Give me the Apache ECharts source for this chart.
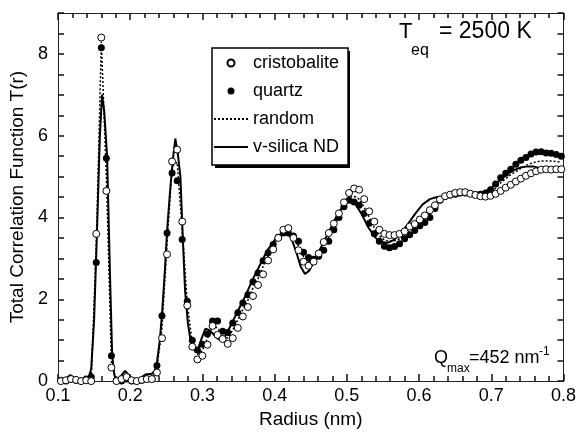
<!DOCTYPE html>
<html>
<head>
<meta charset="utf-8">
<script src="https://cdn.jsdelivr.net/npm/echarts@6/dist/echarts.min.js"></script>
<style>html,body{margin:0;padding:0;background:#fff;}#c{width:579px;height:434px;}</style>
</head>
<body>
<div id="c"></div>
<script>
// common radius grid for the simulated point series (nm)
var R = [
 0.104,0.111,0.118,0.125,0.132,0.139,0.146,0.153,0.160,0.167,
 0.174,0.181,0.188,0.195,0.202,0.209,0.216,0.223,0.230,0.237,
 0.244,0.251,0.258,0.265,0.272,0.279,0.286,0.293,0.300,0.307,
 0.314,0.321,0.328,0.335,0.342,0.349,0.356,0.363,0.370,0.377,
 0.384,0.391,0.398,0.405,0.412,0.419,0.426,0.433,0.440,0.447,
 0.454,0.461,0.468,0.475,0.482,0.489,0.496,0.503,0.510,0.517,
 0.524,0.531,0.538,0.545,0.552,0.559,0.566,0.573,0.580,0.587,
 0.594,0.601,0.608,0.615,0.622,0.629,0.636,0.643,0.650,0.657,
 0.664,0.671,0.678,0.685,0.692,0.699,0.706,0.713,0.720,0.727,
 0.734,0.741,0.748,0.755,0.762,0.769,0.776,0.783,0.790,0.797
];
var quartz = [
 0.02,0.0,0.05,0.02,0.0,0.05,0.1,2.9,8.15,5.45,
 0.62,0.02,0.0,0.05,0.0,0.0,0.02,0.05,0.05,0.38,
 1.6,3.62,5.09,4.9,3.46,1.95,1.0,0.76,0.9,1.15,
 1.47,1.47,1.22,1.19,1.42,1.67,1.91,2.11,2.43,2.64,
 2.94,3.14,3.34,3.52,3.62,3.62,3.55,3.42,3.15,3.02,
 2.98,3.05,3.2,3.42,3.7,4.0,4.26,4.42,4.38,4.3,
 4.1,3.86,3.6,3.42,3.3,3.26,3.29,3.36,3.48,3.58,
 3.68,3.8,3.88,4.0,4.22,4.42,4.52,4.55,4.57,4.6,
 4.6,4.58,4.56,4.57,4.6,4.68,4.82,4.97,5.08,5.18,
 5.3,5.4,5.47,5.55,5.6,5.61,5.58,5.57,5.54,5.5
];
var cristobalite = [
 0.0,0.02,0.05,0.03,0.0,0.02,0.0,3.6,8.4,4.65,
 0.33,0.0,0.05,0.1,0.02,0.0,0.03,0.05,0.05,0.21,
 1.05,3.1,5.37,5.66,3.9,1.85,0.84,0.53,0.62,0.89,
 1.35,1.13,1.03,0.91,1.05,1.3,1.58,1.81,2.08,2.35,
 2.61,2.95,3.22,3.5,3.7,3.74,3.5,3.2,2.92,2.82,
 2.92,3.12,3.4,3.62,3.85,4.1,4.37,4.6,4.71,4.68,
 4.45,4.15,3.9,3.7,3.6,3.57,3.57,3.6,3.66,3.78,
 3.84,3.95,4.05,4.18,4.3,4.44,4.52,4.56,4.6,4.62,
 4.62,4.58,4.55,4.52,4.51,4.53,4.58,4.65,4.73,4.8,
 4.88,4.95,5.02,5.08,5.13,5.17,5.18,5.17,5.18,5.18
];
var random = [
 0.0,0.02,0.05,0.02,0.0,0.03,0.05,3.3,8.3,5.0,
 0.45,0.0,0.02,0.05,0.0,0.0,0.02,0.05,0.05,0.3,
 1.3,3.35,5.25,5.35,3.7,1.9,0.92,0.65,0.75,1.05,
 1.35,1.3,1.1,1.05,1.25,1.5,1.75,1.98,2.28,2.5,
 2.8,3.05,3.3,3.5,3.65,3.68,3.55,3.3,3.05,2.92,
 2.95,3.08,3.3,3.52,3.78,4.05,4.3,4.5,4.52,4.45,
 4.25,4.0,3.75,3.55,3.45,3.42,3.43,3.48,3.57,3.68,
 3.78,3.88,3.98,4.1,4.27,4.43,4.52,4.55,4.58,4.6,
 4.6,4.58,4.56,4.55,4.57,4.62,4.72,4.85,4.95,5.05,
 5.12,5.2,5.27,5.32,5.36,5.38,5.38,5.38,5.37,5.35
];
// v-silica neutron diffraction curve
var ndR = [
 0.100,0.110,0.117,0.124,0.130,0.136,0.142,0.146,0.150,0.154,
 0.158,0.161,0.164,0.168,0.172,0.175,0.178,0.181,0.186,0.193,
 0.199,0.205,0.212,0.221,0.230,0.234,0.237,0.241,0.244,0.248,
 0.251,0.255,0.259,0.2625,0.266,0.2695,0.2726,0.276,0.280,0.284,
 0.289,0.294,0.299,0.304,0.309,0.315,0.320,0.325,0.330,0.336,
 0.343,0.350,0.360,0.370,0.380,0.390,0.400,0.410,0.417,0.423,
 0.430,0.436,0.442,0.448,0.455,0.465,0.475,0.485,0.495,0.502,
 0.510,0.520,0.530,0.540,0.548,0.556,0.565,0.575,0.585,0.595,
 0.605,0.615,0.625,0.640,0.660,0.680,0.690,0.700,0.710,0.720,
 0.730,0.740,0.750,0.758,0.765
];
var ndT = [
 0.0,0.05,0.15,0.05,-0.05,0.0,0.05,0.3,1.5,3.66,
 6.0,7.0,6.6,5.49,2.6,0.64,0.15,0.02,0.1,0.25,
 0.12,0.0,0.05,0.16,0.18,0.25,0.45,1.0,1.63,2.7,
 3.66,4.6,5.41,5.93,5.55,5.0,3.6,2.2,1.4,0.95,
 0.75,0.78,1.05,1.28,1.25,1.15,1.05,1.0,1.05,1.25,
 1.5,1.75,2.1,2.5,2.85,3.2,3.45,3.62,3.65,3.5,
 3.15,2.8,2.62,2.7,2.95,3.3,3.65,4.0,4.3,4.45,
 4.38,4.1,3.75,3.5,3.4,3.38,3.45,3.62,3.85,4.1,
 4.32,4.45,4.5,4.52,4.55,4.58,4.62,4.72,4.88,5.03,
 5.15,5.22,5.25,5.25,5.22
];
var xTicks = [0.1,0.2,0.3,0.4,0.5,0.6,0.7,0.8];
var yTickLabels = [0,2,4,6,8];

function pairs(xs, ys){ return xs.map(function(x,i){ return [x, ys[i]]; }); }

var FONT = '"Liberation Sans", Arial, Helvetica, sans-serif';
var axisCol = '#222';
var tickCol = '#111';
var noSym = {color: 'rgba(0,0,0,0)', borderColor: 'rgba(0,0,0,0)', borderWidth: 0};
function xAx(pos, extra){
  var a = {
    type: 'value', position: pos, min: 0.1, max: 0.8, interval: 0.1,
    axisLine: {show: true, onZero: false, lineStyle: {color: axisCol, width: 1}},
    axisTick: {show: true, inside: true, length: 7, lineStyle: {color: tickCol, width: 1.5}},
    minorTick: {show: true, splitNumber: 5, length: 5, lineStyle: {color: tickCol, width: 1.5}},
    splitLine: {show: false}, axisLabel: {show: false}
  };
  return Object.assign(a, extra || {});
}
function yAx(pos, extra){
  var a = {
    type: 'value', position: pos, min: 0, max: 9, interval: 0.5,
    axisLine: {show: true, onZero: false, lineStyle: {color: axisCol, width: 1}},
    axisTick: {show: true, inside: true, length: 6, lineStyle: {color: tickCol, width: 1.5}},
    splitLine: {show: false}, axisLabel: {show: false}
  };
  return Object.assign(a, extra || {});
}
var chart = echarts.init(document.getElementById('c'), null, {renderer:'canvas'});
chart.setOption({
  animation: false,
  backgroundColor: '#fff',
  grid: {left: 58, right: 14, top: 13, bottom: 44},
  xAxis: [
    xAx('bottom', {
      name: 'Radius (nm)', nameLocation: 'middle', nameGap: 23,
      nameTextStyle: {fontSize: 19, color: '#000', fontFamily: FONT},
      axisLabel: {show: true, fontSize: 18, color: '#000', fontFamily: FONT, margin: 6,
        formatter: function(v){ var t = xTicks.filter(function(k){return Math.abs(k-v)<1e-6;}); return t.length ? t[0].toFixed(1) : ''; }}
    }),
    xAx('top')
  ],
  yAxis: [
    yAx('left', {
      name: 'Total Correlation Function T(r)', nameLocation: 'middle', nameGap: 24,
      nameTextStyle: {fontSize: 19, color: '#000', fontFamily: FONT},
      axisLabel: {show: true, fontSize: 18, color: '#000', fontFamily: FONT, margin: 10,
        formatter: function(v){ var t = yTickLabels.filter(function(k){return Math.abs(k-v)<1e-6;}); return t.length ? String(t[0]) : ''; }}
    }),
    yAx('right')
  ],
  legend: {
    orient: 'vertical', left: 212, top: 48, z: 10,
    data: [
      {name: 'cristobalite'},
      {name: 'quartz'},
      {name: 'random', itemStyle: noSym},
      {name: 'v-silica ND', itemStyle: noSym}
    ],
    itemWidth: 34, itemHeight: 7, itemGap: 10,
    padding: [6, 9, 9, 1],
    backgroundColor: '#fff', borderColor: '#000', borderWidth: 1.5, borderRadius: 0,
    textStyle: {fontSize: 18, color: '#000', fontFamily: FONT}
  },
  series: [
    {name: 'v-silica ND', type: 'line', data: pairs(ndR, ndT), symbol: 'none', smooth: false,
     lineStyle: {color: '#000', width: 2}, itemStyle: {color: '#000'}, z: 2},
    {name: 'random', type: 'line', data: pairs(R, random), symbol: 'none',
     lineStyle: {color: '#000', width: 1.5, type: [2, 2]}, itemStyle: {color: '#000'}, z: 3},
    {name: 'quartz', type: 'scatter', data: pairs(R, quartz), symbol: 'circle', symbolSize: 7,
     itemStyle: {color: '#000', opacity: 1}, z: 4},
    {name: 'cristobalite', type: 'scatter', data: pairs(R, cristobalite), symbol: 'circle', symbolSize: 7,
     itemStyle: {color: '#fff', borderColor: '#000', borderWidth: 1, opacity: 1}, z: 5}
  ],
  graphic: [
    {type: 'rect', z: 9, shape: {x: 215, y: 51, width: 135, height: 117}, style: {fill: '#000'}},
    {type: 'text', x: 399, y: 32, style: {text: 'T', font: '22px ' + FONT, fill: '#000', align: 'left', verticalAlign: 'middle', textAlign: 'left', textVerticalAlign: 'middle'}},
    {type: 'text', x: 411, y: 51, style: {text: 'eq', font: '16px ' + FONT, fill: '#000', align: 'left', verticalAlign: 'middle', textAlign: 'left', textVerticalAlign: 'middle'}},
    {type: 'text', x: 439, y: 32, style: {text: '= 2500 K', font: '23px ' + FONT, fill: '#000', align: 'left', verticalAlign: 'middle', textAlign: 'left', textVerticalAlign: 'middle'}},
    {type: 'text', x: 434, y: 358, style: {text: 'Q', font: '18px ' + FONT, fill: '#000', align: 'left', verticalAlign: 'middle', textAlign: 'left', textVerticalAlign: 'middle'}},
    {type: 'text', x: 447, y: 369, style: {text: 'max', font: '12px ' + FONT, fill: '#000', align: 'left', verticalAlign: 'middle', textAlign: 'left', textVerticalAlign: 'middle'}},
    {type: 'text', x: 469, y: 358, style: {text: '=452 nm', font: '18px ' + FONT, fill: '#000', align: 'left', verticalAlign: 'middle', textAlign: 'left', textVerticalAlign: 'middle'}},
    {type: 'text', x: 539, y: 352, style: {text: '-1', font: '12px ' + FONT, fill: '#000', align: 'left', verticalAlign: 'middle', textAlign: 'left', textVerticalAlign: 'middle'}}
  ]
});
</script>
</body>
</html>
